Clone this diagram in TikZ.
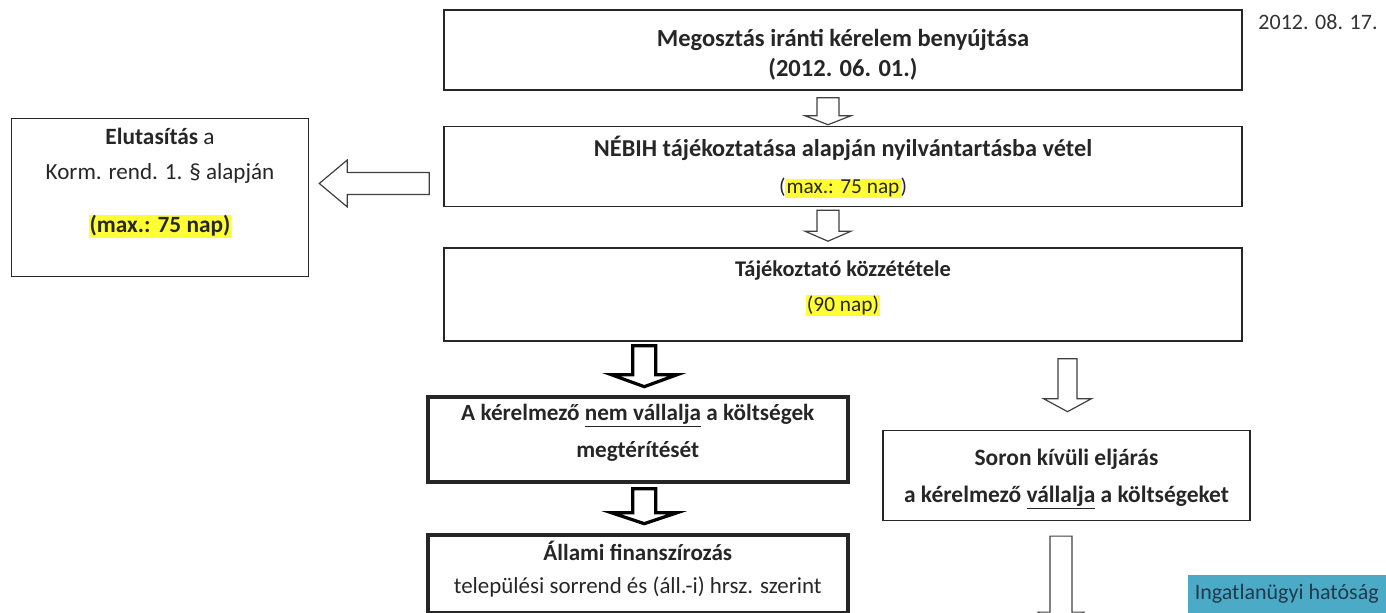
\documentclass[tikz,border=0pt]{standalone}
\usepackage{fontspec}
\setmainfont{Carlito}
\usepackage{xcolor}
\usetikzlibrary{positioning, calc}

\definecolor{hlyellow}{rgb}{1,1,0.2}
\definecolor{authblue}{HTML}{4BAAC6}
\definecolor{authtext}{HTML}{1F3B4D}
\newcommand{\hl}[1]{{\setlength{\fboxsep}{0.8pt}\colorbox{hlyellow}{#1}}}
\newcommand{\fsz}[2]{\fontsize{#1}{#2}\selectfont}

% block arrow pointing down: [opts]{from}{to}{shaft half}{head half}{head length}
\newcommand{\blockdown}[6][]{%
  \draw[#1] let \p1=(#2), \p2=(#3) in
    (\x1-#4,\y1) -- (\x1+#4,\y1) -- (\x1+#4,\y2+#6) -- (\x1+#5,\y2+#6)
    -- (\x1,\y2) -- (\x1-#5,\y2+#6) -- (\x1-#4,\y2+#6) -- cycle;}
% block arrow pointing left
\newcommand{\blockleft}[6][]{%
  \draw[#1] let \p1=(#2), \p2=(#3) in
    (\x1,\y1-#4) -- (\x1,\y1+#4) -- (\x2+#6,\y1+#4) -- (\x2+#6,\y1+#5)
    -- (\x2,\y1) -- (\x2+#6,\y1-#5) -- (\x2+#6,\y1-#4) -- cycle;}

\begin{document}
\begin{tikzpicture}[
    x=0.75pt, y=-0.75pt,
    box/.style={draw=black!85, line width=1.1pt, align=center, inner sep=2pt,
      font=\fsz{17.4pt}{27.75pt}, text=black!85},
    thickbox/.style={box, line width=3pt},
    thinarrow/.style={draw=black!75, line width=0.9pt, fill=white},
    thickarrow/.style={draw=black, line width=2.4pt, fill=white, line join=miter},
]
    \useasboundingbox (0,0) rectangle (1386,613);

    % Main column
    \node[box, minimum width=598.5pt, minimum height=60pt, font=\fsz{18.4pt}{22.5pt},
      text depth=0pt] (sub) at (843,50)
      {\rule{0pt}{17pt}\textbf{Megosztás iránti kérelem benyújtása}\\\textbf{(2012. 06. 01.)}};
    \node[box, below=26.25pt of sub, minimum width=598.5pt, minimum height=60pt,
      font=\fsz{18.2pt}{27.75pt}, text depth=2pt] (reg)
      {\textbf{NÉBIH tájékoztatása alapján nyilvántartásba vétel}\\
       \fsz{16pt}{27.75pt}(\hl{max.: 75 nap})};
    \node[box, below=30pt of reg, minimum width=598.5pt, minimum height=69.75pt,
      font=\fsz{16.8pt}{26.25pt}, text depth=12pt] (pub)
      {\textbf{Tájékoztató közzététele}\\\fsz{16pt}{26.25pt}\hl{(90 nap)}};

    % Rejection
    \node[box, left=100.5pt of reg, yshift=-23.25pt, minimum width=222.75pt,
      minimum height=118.5pt, font=\fsz{17.5pt}{26.25pt}, text depth=25pt] (rej)
      {\textbf{Elutasítás} a\\{\fsz{17.3pt}{26.25pt}Korm. rend. 1. § alapján}\\[13.5pt]
       \hl{\textbf{(max.: 75 nap)}}};

    % Two branches
    \node[thickbox, anchor=north, minimum width=315pt, minimum height=63.75pt,
      text depth=12pt] (nocost) at ($(pub.south west)+(194.5,53)$)
      {\textbf{A kérelmező \underline{nem vállalja} a költségek}\\\textbf{megtérítését}};
    \node[thickbox, below=36.75pt of nocost, minimum width=315pt, minimum height=58.5pt,
      font=\fsz{17.3pt}{24.75pt}, text depth=10pt] (state)
      {\textbf{Állami finanszírozás}\\\fsz{17.2pt}{24.75pt}települési sorrend és (áll.-i) hrsz. szerint};
    \node[box, anchor=north east, minimum width=275.25pt, minimum height=67.5pt,
      font=\fsz{17.6pt}{27.75pt}, text depth=0pt] (extra) at ($(pub.south east)+(8,88)$)
      {\textbf{Soron kívüli eljárás}\\\textbf{a kérelmező \underline{vállalja} a költségeket}};

    % Labels
    \node[font=\fsz{16.5pt}{18pt}, text=black!80] (date) at (1318,22) {2012. 08. 17.};
    \node[fill=authblue, text=authtext, anchor=south east, minimum width=148.5pt,
      minimum height=28.5pt, inner sep=0pt, font=\fsz{16.5pt}{18pt}]
      (auth) at (1386,613) {Ingatlanügyi hatóság};
    \coordinate (out) at ($(extra.south)+(-5.5,116)$);

    % Block arrows
    \blockdown[thinarrow]{$(sub.south)+(-15,7)$}{$(reg.north)+(-15,-1)$}{8.25pt}{17.25pt}{6.75pt}
    \blockdown[thinarrow]{$(reg.south)+(-15,3)$}{$(pub.north)+(-15,-6)$}{8.25pt}{17.25pt}{7.5pt}
    \blockleft[thinarrow]{$(reg.west)+(-14,17)$}{$(rej.east)+(10,0)$}{8.25pt}{17.6pt}{21pt}
    \blockdown[thickarrow]{$(pub.south -| nocost.north)+(6.5,4)$}{$(nocost.north)+(6.5,-8)$}{8.6pt}{24.75pt}{9pt}
    \blockdown[thickarrow]{$(nocost.south)+(6.5,5)$}{$(state.north)+(6.5,-9)$}{8.6pt}{24.75pt}{8.25pt}
    \blockdown[thinarrow]{$(pub.south -| extra.north)+(1,17)$}{$(extra.north)+(1,-18)$}{7.1pt}{18pt}{9.75pt}
    \blockdown[thinarrow]{$(extra.south)+(-5.5,15)$}{out}{8.25pt}{17.25pt}{18.75pt}
\end{tikzpicture}
\end{document}
